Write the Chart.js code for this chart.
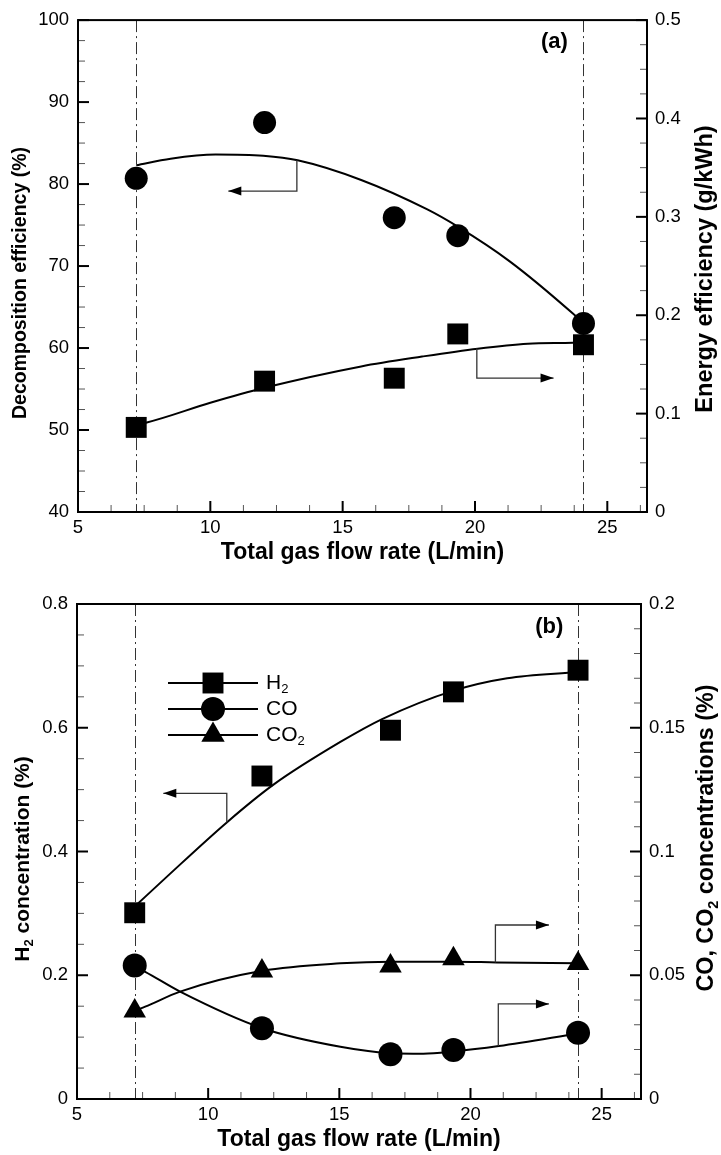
<!DOCTYPE html>
<html>
<head>
<meta charset="utf-8">
<script src="https://cdn.jsdelivr.net/npm/chart.js@4.4.1/dist/chart.umd.min.js"></script>
<style>
  html, body { margin: 0; padding: 0; background: #fff; }
  canvas { display: block; }
</style>
</head>
<body>
<canvas id="chartA" width="721" height="580"></canvas>
<canvas id="chartB" width="721" height="575"></canvas>
<script>
const FONT = "'Liberation Sans', Arial, Helvetica, sans-serif"

// shared x values (total gas flow rate, L/min)
const flowRate = [7.2, 12.05, 16.95, 19.35, 24.1]
const refFlow = [7.2, 24.1]
const xTicks = [5, 10, 15, 20, 25]

// panel (a)
const decompEfficiency = [80.7, 87.5, 75.9, 73.7, 63.0]
const energyEfficiency = [0.086, 0.133, 0.136, 0.181, 0.170]
const decompFitX = [7.2, 8.5, 10.2, 12, 13.3, 15.7, 18.2, 19.35, 21.3, 23.7, 24.1]
const decompFitY = [82.3, 83.1, 83.6, 83.45, 82.9, 80.5, 76.9, 74.8, 70.6, 64.2, 63.0]
const energyFitX = [7.2, 7.6, 10, 12, 15.7, 18, 20.1, 22, 23.7, 24.1]
const energyFitY = [0.089, 0.091, 0.111, 0.126, 0.148, 0.158, 0.166, 0.171, 0.172, 0.1725]
const decompTicks = [40, 50, 60, 70, 80, 90, 100]
const energyTicks = [0, 0.1, 0.2, 0.3, 0.4, 0.5]
const decompArrow = [[13.27, 82.9], [13.27, 79.15], [10.68, 79.15]]
const energyArrow = [[20.07, 0.1663], [20.07, 0.1361], [22.97, 0.1361]]

// panel (b)
const h2Conc = [0.301, 0.522, 0.596, 0.658, 0.693]
const coConc = [0.0539, 0.0286, 0.0181, 0.0198, 0.0268]
const co2Conc = [0.0356, 0.0517, 0.0537, 0.0567, 0.0547]
const h2FitX = [7.2, 8.42, 10.71, 12.49, 15.04, 16.63, 19.36, 21.4, 24.1]
const h2FitY = [0.311, 0.359, 0.447, 0.508, 0.577, 0.614, 0.660, 0.680, 0.690]
const coFitX = [7.2, 7.6, 8.93, 12.07, 15.04, 16.97, 18.2, 19.36, 21.08, 24.1]
const coFitY = [0.0535, 0.0514, 0.0434, 0.0286, 0.0211, 0.0185, 0.0183, 0.0192, 0.0214, 0.0265]
const co2FitX = [7.2, 7.6, 8.93, 12.07, 15.04, 16.97, 19.36, 21.0, 24.1]
const co2FitY = [0.0357, 0.0373, 0.0434, 0.0518, 0.0548, 0.0555, 0.0555, 0.0552, 0.0548]
const h2Ticks = [0, 0.2, 0.4, 0.6, 0.8]
const coTicks = [0, 0.05, 0.1, 0.15, 0.2]
const h2Arrow = [[10.71, 0.447], [10.71, 0.494], [8.29, 0.494]]
const co2Arrow = [[20.95, 0.0552], [20.95, 0.0703], [22.99, 0.0703]]
const coArrow = [[21.06, 0.0214], [21.06, 0.0384], [22.99, 0.0384]]

const fmt = v => String(Number(v.toFixed(3)))
const pts = (xs, ys) => xs.map((x, i) => ({ x: x, y: ys[i] }))

function markers(ys, style, radius, axis) {
  return {
    data: pts(flowRate, ys), yAxisID: axis, showLine: false,
    pointStyle: style, pointRadius: radius, pointBackgroundColor: "#000",
    pointBorderWidth: 0, borderColor: "#000"
  }
}

function fitLine(xs, ys, axis) {
  return {
    data: pts(xs, ys), yAxisID: axis, showLine: true, pointRadius: 0,
    borderColor: "#000", borderWidth: 2, cubicInterpolationMode: "monotone"
  }
}

function yScale(position, min, max, ticks, width, pad) {
  return {
    type: "linear", position: position, min: min, max: max,
    grid: { display: false, drawTicks: false },
    border: { display: false },
    afterBuildTicks: s => { s.ticks = ticks.map(v => ({ value: v })) },
    afterFit: s => { s.width = width },
    ticks: { color: "#000", padding: pad, autoSkip: false, font: { family: FONT, size: 18.5 }, callback: v => fmt(v) }
  }
}

function xScale(height, pad) {
  return {
    type: "linear", position: "bottom", min: 5, max: 26.5,
    grid: { display: false, drawTicks: false },
    border: { display: false },
    afterBuildTicks: s => { s.ticks = xTicks.map(v => ({ value: v })) },
    afterFit: s => { s.height = height },
    ticks: { color: "#000", padding: pad, autoSkip: false, maxRotation: 0, font: { family: FONT, size: 18.5 }, callback: v => fmt(v) }
  }
}

function drawRich(ctx, parts, x, y, size, weight, rot, align) {
  ctx.save()
  ctx.translate(x, y)
  ctx.rotate(rot || 0)
  const fontFor = p => weight + " " + (p.sub ? size * 0.62 : size) + "px " + FONT
  const widths = parts.map(p => { ctx.font = fontFor(p); return ctx.measureText(p.t).width })
  const total = widths.reduce((a, b) => a + b, 0)
  let cx = align === "left" ? 0 : -total / 2
  ctx.fillStyle = "#000"
  ctx.textBaseline = "middle"
  ctx.textAlign = "left"
  parts.forEach((p, i) => {
    ctx.font = fontFor(p)
    ctx.fillText(p.t, cx, p.sub ? size * 0.32 : 0)
    cx += widths[i]
  })
  ctx.restore()
}

function drawMarker(ctx, style, x, y, r) {
  ctx.beginPath()
  if (style === "circle") {
    ctx.arc(x, y, r, 0, Math.PI * 2)
  } else if (style === "rect") {
    const h = r * Math.SQRT1_2
    ctx.rect(x - h, y - h, 2 * h, 2 * h)
  } else {
    ctx.moveTo(x, y - r)
    ctx.lineTo(x + r * Math.sin(Math.PI * 2 / 3), y + r / 2)
    ctx.lineTo(x - r * Math.sin(Math.PI * 2 / 3), y + r / 2)
    ctx.closePath()
  }
  ctx.fillStyle = "#000"
  ctx.fill()
}

function drawArrow(ctx, chart, axis, path) {
  const xs = chart.scales.x
  const ys = chart.scales[axis]
  const p = path.map(([x, y]) => [xs.getPixelForValue(x), ys.getPixelForValue(y)])
  ctx.save()
  ctx.strokeStyle = "#333"
  ctx.lineWidth = 1.3
  ctx.beginPath()
  ctx.moveTo(p[0][0], p[0][1])
  for (let i = 1; i < p.length; i++) ctx.lineTo(p[i][0], p[i][1])
  ctx.stroke()
  const [x0, y0] = p[p.length - 2]
  const [x1, y1] = p[p.length - 1]
  const a = Math.atan2(y1 - y0, x1 - x0)
  ctx.fillStyle = "#000"
  ctx.beginPath()
  ctx.moveTo(x1, y1)
  ctx.lineTo(x1 - 13 * Math.cos(a) + 4.5 * Math.sin(a), y1 - 13 * Math.sin(a) - 4.5 * Math.cos(a))
  ctx.lineTo(x1 - 13 * Math.cos(a) - 4.5 * Math.sin(a), y1 - 13 * Math.sin(a) + 4.5 * Math.cos(a))
  ctx.closePath()
  ctx.fill()
  ctx.restore()
}

function tickSet(ctx, scale, min, max, step, majors, draw) {
  const n = Math.round((max - min) / step)
  for (let i = 0; i <= n; i++) {
    const v = min + i * step
    const major = majors.some(m => Math.abs(m - v) < step / 10)
    draw(scale.getPixelForValue(v), major)
  }
}

// frame, inward ticks, reference lines, arrows, titles
function decorPlugin(cfg) {
  return {
    id: "decor",
    beforeDatasetsDraw(chart) {
      const { ctx, chartArea: a } = chart
      ctx.save()
      ctx.strokeStyle = "#333"
      ctx.lineWidth = 1
      ctx.setLineDash([12, 4, 2, 4])
      refFlow.forEach(f => {
        const x = Math.round(chart.scales.x.getPixelForValue(f)) + 0.5
        ctx.beginPath()
        ctx.moveTo(x, a.top)
        ctx.lineTo(x, a.bottom)
        ctx.stroke()
      })
      ctx.restore()
    },
    afterDatasetsDraw(chart) {
      const { ctx, chartArea: a, scales } = chart
      ctx.save()
      // ticks
      const tick = (x1, y1, x2, y2, major) => {
        ctx.beginPath()
        ctx.lineWidth = major ? 2 : 1
        ctx.strokeStyle = major ? "#000" : "#555"
        ctx.moveTo(x1, y1)
        ctx.lineTo(x2, y2)
        ctx.stroke()
      }
      tickSet(ctx, scales.x, 5, 26.25, 1.25, xTicks, (px, m) => tick(px, a.bottom, px, a.bottom - (m ? 11 : 7), m))
      tickSet(ctx, scales.yL, cfg.yL[0], cfg.yL[1], cfg.yL[2], cfg.yLTicks, (py, m) => tick(a.left, py, a.left + (m ? 11 : 7), py, m))
      tickSet(ctx, scales.yR, cfg.yR[0], cfg.yR[1], cfg.yR[2], cfg.yRTicks, (py, m) => tick(a.right, py, a.right - (m ? 11 : 7), py, m))
      // frame
      ctx.lineWidth = 2
      ctx.strokeStyle = "#000"
      ctx.strokeRect(a.left, a.top, a.right - a.left, a.bottom - a.top)
      ctx.restore()

      cfg.arrows.forEach(ar => drawArrow(ctx, chart, ar.axis, ar.path))

      // panel label
      drawRich(ctx, [{ t: cfg.panel.text }], scales.x.getPixelForValue(cfg.panel.x),
        scales.yL.getPixelForValue(cfg.panel.y), 22, "bold", 0)

      // axis titles
      const cx = (a.left + a.right) / 2
      drawRich(ctx, [{ t: "Total gas flow rate (L/min)" }], cx, a.bottom + 41, 23, "bold", 0)
      drawRich(ctx, cfg.leftTitle, a.left - cfg.leftTitlePos[0], cfg.leftTitlePos[1], cfg.leftTitleSize, "bold", -Math.PI / 2)
      drawRich(ctx, cfg.rightTitle, a.right + cfg.rightTitlePos[0], cfg.rightTitlePos[1], cfg.rightTitleSize, "bold", -Math.PI / 2)

      // legend
      if (cfg.legend) {
        cfg.legend.forEach((item, i) => {
          const y = a.top + 79 + i * 26
          ctx.save()
          ctx.strokeStyle = "#000"
          ctx.lineWidth = 2
          ctx.beginPath()
          ctx.moveTo(a.left + 91, y)
          ctx.lineTo(a.left + 181, y)
          ctx.stroke()
          ctx.restore()
          drawMarker(ctx, item.style, a.left + 136, y, item.r)
          drawRich(ctx, item.label, a.left + 189, y, 21, "normal", 0, "left")
        })
      }
    }
  }
}

function baseOptions(padTop, leftW, rightW, bottomH, yL, yR) {
  return {
    responsive: false,
    animation: false,
    devicePixelRatio: 1,
    events: [],
    layout: { padding: { top: padTop, left: 0, right: 0, bottom: 0 } },
    plugins: { legend: { display: false }, tooltip: { enabled: false } },
    scales: {
      x: xScale(bottomH, 5),
      yL: yScale("left", yL[0], yL[1], yL[2], leftW, 9),
      yR: yScale("right", yR[0], yR[1], yR[2], rightW, 8)
    }
  }
}

new Chart(document.getElementById("chartA"), {
  type: "scatter",
  data: {
    datasets: [
      markers(decompEfficiency, "circle", 11.5, "yL"),
      markers(energyEfficiency, "rect", 14.8, "yR"),
      fitLine(decompFitX, decompFitY, "yL"),
      fitLine(energyFitX, energyFitY, "yR")
    ]
  },
  options: baseOptions(15, 78, 74, 68, [40, 100, decompTicks], [0, 0.5, energyTicks]),
  plugins: [decorPlugin({
    yL: [40, 100, 2.5], yLTicks: decompTicks,
    yR: [0, 0.5, 0.025], yRTicks: energyTicks,
    arrows: [{ axis: "yL", path: decompArrow }, { axis: "yR", path: energyArrow }],
    panel: { text: "(a)", x: 23.0, y: 97.35 },
    leftTitle: [{ t: "Decomposition efficiency (%)" }],
    leftTitleSize: 19.5, leftTitlePos: [57, 283],
    rightTitle: [{ t: "Energy efficiency (g/kWh)" }],
    rightTitleSize: 23.5, rightTitlePos: [59, 269]
  })]
})

new Chart(document.getElementById("chartB"), {
  type: "scatter",
  data: {
    datasets: [
      markers(h2Conc, "rect", 14.8, "yL"),
      markers(coConc, "circle", 12, "yR"),
      markers(co2Conc, "triangle", 13, "yR"),
      fitLine(h2FitX, h2FitY, "yL"),
      fitLine(coFitX, coFitY, "yR"),
      fitLine(co2FitX, co2FitY, "yR")
    ]
  },
  options: baseOptions(24, 77, 80, 56, [0, 0.8, h2Ticks], [0, 0.2, coTicks]),
  plugins: [decorPlugin({
    yL: [0, 0.8, 0.05], yLTicks: h2Ticks,
    yR: [0, 0.2, 0.01], yRTicks: coTicks,
    arrows: [{ axis: "yL", path: h2Arrow }, { axis: "yR", path: co2Arrow }, { axis: "yR", path: coArrow }],
    panel: { text: "(b)", x: 23.0, y: 0.763 },
    leftTitle: [{ t: "H" }, { t: "2", sub: true }, { t: " concentration (%)" }],
    leftTitleSize: 21, leftTitlePos: [54, 279],
    rightTitle: [{ t: "CO, CO" }, { t: "2", sub: true }, { t: " concentrations (%)" }],
    rightTitleSize: 23.3, rightTitlePos: [66, 258],
    legend: [
      { style: "rect", r: 14.8, label: [{ t: "H" }, { t: "2", sub: true }] },
      { style: "circle", r: 12, label: [{ t: "CO" }] },
      { style: "triangle", r: 13.5, label: [{ t: "CO" }, { t: "2", sub: true }] }
    ]
  })]
})
</script>
</body>
</html>
